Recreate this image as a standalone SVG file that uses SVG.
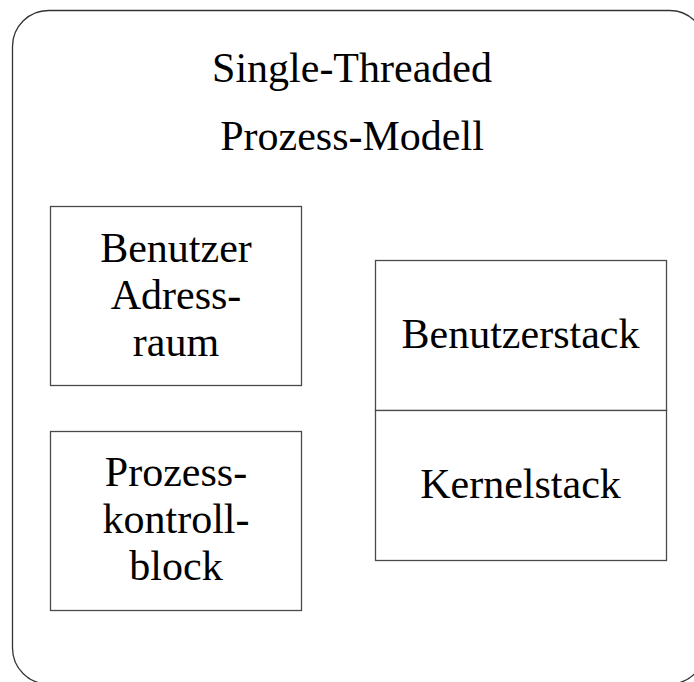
<svg xmlns="http://www.w3.org/2000/svg" width="694" height="682" viewBox="0 0 694 682">
  <style>
    .frame { fill: none; stroke: #333333; stroke-width: 1.3; }
    .box { fill: #ffffff; stroke: #4a4a4a; stroke-width: 1.3; }
    .lbl { font-family: "Liberation Serif", "Times New Roman", serif; font-size: 42px; fill: #000000; text-anchor: middle; }
  </style>
  <rect width="694" height="682" fill="#ffffff"/>
  <g id="process">
    <rect class="frame" x="12.5" y="10.5" width="693" height="673.5" rx="36" ry="36"/>
    <text class="lbl" x="352" y="82">Single-Threaded</text>
    <text class="lbl" x="352" y="150">Prozess-Modell</text>
  </g>
  <g id="adressraum">
    <rect class="box" x="50.5" y="206.5" width="251" height="179"/>
    <text class="lbl" x="176" y="262">Benutzer</text>
    <text class="lbl" x="176" y="309">Adress-</text>
    <text class="lbl" x="176" y="356">raum</text>
  </g>
  <g id="pcb">
    <rect class="box" x="50.5" y="431.5" width="251" height="179"/>
    <text class="lbl" x="176" y="486">Prozess-</text>
    <text class="lbl" x="176" y="533">kontroll-</text>
    <text class="lbl" x="176" y="580">block</text>
  </g>
  <g id="benutzerstack">
    <rect class="box" x="375.5" y="260.5" width="291" height="150"/>
    <text class="lbl" x="520.5" y="348">Benutzerstack</text>
  </g>
  <g id="kernelstack">
    <rect class="box" x="375.5" y="410.5" width="291" height="150"/>
    <text class="lbl" x="520.5" y="498">Kernelstack</text>
  </g>
  <g id="connectors"></g>
</svg>
